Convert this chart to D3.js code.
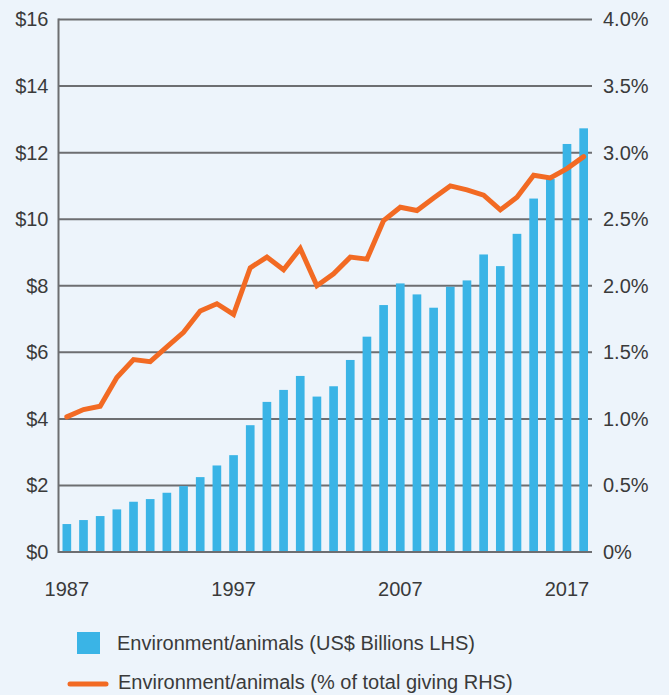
<!DOCTYPE html>
<html><head><meta charset="utf-8">
<script src="https://cdn.jsdelivr.net/npm/d3@7"></script>
<style>
html,body{margin:0;padding:0;background:#edf4fb;}
svg{display:block;font-family:"Liberation Sans",Arial,sans-serif;}
</style></head>
<body><svg id="chart" width="669" height="695"></svg>
<script>
const years = d3.range(1987, 2019);
const billions = [0.84,0.96,1.08,1.28,1.51,1.59,1.78,1.98,2.25,2.60,2.91,
  3.81,4.51,4.87,5.29,4.67,4.98,5.77,6.47,7.42,8.07,
  7.74,7.34,7.97,8.16,8.94,8.59,9.56,10.62,11.21,12.26,12.73];
const pctGiving = [1.015,1.07,1.095,1.31,1.445,1.43,1.54,1.65,1.81,1.865,1.785,
  2.135,2.215,2.12,2.28,2.0,2.09,2.215,2.20,2.49,2.59,
  2.565,2.66,2.75,2.72,2.68,2.57,2.665,2.83,2.81,2.88,2.97];
const leftTicks = [0,2,4,6,8,10,12,14,16];
const rightTicks = [0,0.5,1.0,1.5,2.0,2.5,3.0,3.5,4.0];
const yearLabels = [1987,1997,2007,2017];
const legendLabels = ["Environment/animals (US$ Billions LHS)","Environment/animals (% of total giving RHS)"];

const barColor = "#3ab4e6", lineColor = "#f26a23", gridColor = "#6d6e71", textColor = "#3a3a3a";
const L = 58.5, R = 592, T = 19.5, B = 552;
const svg = d3.select("#chart");

const x = d3.scaleBand().domain(years).range([L, R]).paddingInner(0.48).paddingOuter(0.24);
const yL = d3.scaleLinear().domain([0,16]).range([B, T]);
const yR = d3.scaleLinear().domain([0,4]).range([B, T]);

// gridlines
svg.append("g").selectAll("line").data(leftTicks).join("line")
  .attr("x1", L).attr("x2", R).attr("y1", d=>yL(d)).attr("y2", d=>yL(d))
  .attr("stroke", gridColor).attr("stroke-width", 2);

// bars
svg.append("g").selectAll("rect").data(billions).join("rect")
  .attr("x", (d,i)=>x(years[i])).attr("width", x.bandwidth())
  .attr("y", d=>yL(d)).attr("height", d=>B - yL(d))
  .attr("fill", barColor);

// baseline & left axis line
svg.append("line").attr("x1", L).attr("x2", R).attr("y1", B).attr("y2", B)
  .attr("stroke", gridColor).attr("stroke-width", 2);
svg.append("line").attr("x1", L).attr("x2", L).attr("y1", T-1).attr("y2", B+1)
  .attr("stroke", gridColor).attr("stroke-width", 2);

// line
const line = d3.line().x((d,i)=>x(years[i]) + x.bandwidth()/2).y(d=>yR(d));
svg.append("path").datum(pctGiving).attr("d", line)
  .attr("fill","none").attr("stroke", lineColor).attr("stroke-width", 5)
  .attr("stroke-linejoin","miter").attr("stroke-linecap","round");

// left axis labels
const axL = d3.axisLeft(yL).tickValues(leftTicks).tickSize(0).tickPadding(10).tickFormat(d=>"$"+d);
const gL = svg.append("g").attr("transform",`translate(${L},0)`).call(axL);
// right axis labels
const axR = d3.axisRight(yR).tickValues(rightTicks).tickSize(0).tickPadding(11)
  .tickFormat(d=> d===0 ? "0%" : d3.format(".1f")(d)+"%");
const gR = svg.append("g").attr("transform",`translate(${R},0)`).call(axR);
// bottom axis labels
const axB = d3.axisBottom(x).tickValues(yearLabels).tickSize(0).tickPadding(30);
const gB = svg.append("g").attr("transform",`translate(0,${B})`).call(axB);
[gL,gR,gB].forEach(g=>{
  g.select(".domain").remove();
  g.selectAll("text").attr("font-size", 20).attr("fill", textColor)
    .attr("font-family","'Liberation Sans',Arial,sans-serif");
});

// legend
const lg = svg.append("g");
lg.append("rect").attr("x",77).attr("y",632).attr("width",23).attr("height",22).attr("fill",barColor);
lg.append("text").attr("x",117).attr("y",643).attr("dy","0.35em").attr("font-size",20)
  .attr("fill",textColor).text(legendLabels[0]);
lg.append("line").attr("x1",70).attr("x2",106).attr("y1",684).attr("y2",684)
  .attr("stroke",lineColor).attr("stroke-width",5).attr("stroke-linecap","round");
lg.append("text").attr("x",118).attr("y",682).attr("dy","0.35em").attr("font-size",20)
  .attr("fill",textColor).text(legendLabels[1]);
</script></body></html>
